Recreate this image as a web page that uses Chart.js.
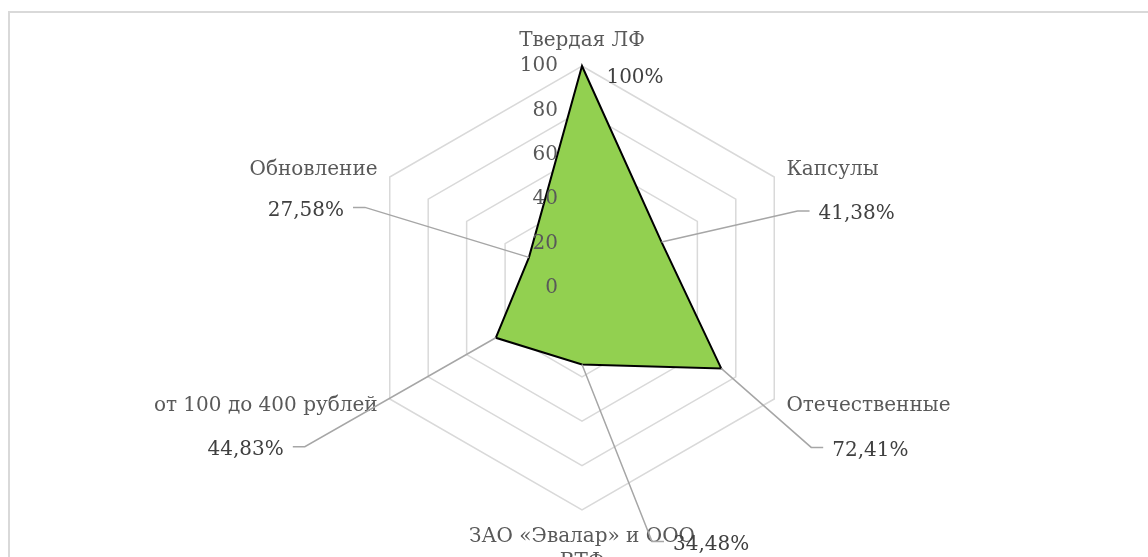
<!DOCTYPE html>
<html>
<head>
<meta charset="utf-8">
<script src="https://cdn.jsdelivr.net/npm/chart.js@4.4.1/dist/chart.umd.min.js"></script>
<style>
  html, body { margin: 0; padding: 0; background: #fff; overflow: hidden; }
  #wrap { position: absolute; left: 0; top: 0; width: 1148px; height: 557px; }
  #frame { position: absolute; left: 8px; top: 11px; width: 1160px; height: 600px; border: 2px solid #d9d9d9; box-sizing: border-box; }
</style>
</head>
<body>
<div id="frame"></div>
<div id="wrap"><canvas id="chart"></canvas></div>
<script>
const categories = ["Твердая ЛФ", "Капсулы", "Отечественные", ["ЗАО «Эвалар» и ООО", "ВТФ"], "от 100 до 400 рублей", "Обновление"];
const shares = [100, 41.38, 72.41, 34.48, 44.83, 27.58];
const tickValues = [0, 20, 40, 60, 80, 100];

// where each value label sits relative to its point, and whether it gets a leader line
const labelOffsets = [[53, 12, false], [136, -31, true], [90, 79, true], [70, 177, true], [-191, 109, true], [-164, -50, true]];

const FONT = "'DejaVu Serif', 'Liberation Serif', serif";

function pct(v) {
  let s = Number.isInteger(v) ? String(v) : v.toFixed(2).replace(".", ",");
  return s + "%";
}

const labelsPlugin = {
  id: "labels",
  afterDatasetsDraw(chart) {
    const ctx = chart.ctx;
    const scale = chart.scales.r;
    const r = scale.drawingArea;

    ctx.save();
    ctx.font = "20px " + FONT;
    ctx.fillStyle = "#595959";
    ctx.textBaseline = "middle";

    // ticks on the vertical axis
    ctx.textAlign = "right";
    tickValues.forEach((v) => {
      const d = scale.getDistanceFromCenterForValue(v);
      ctx.fillText(String(v), scale.xCenter - 24, scale.yCenter - d);
    });

    // category labels
    categories.forEach((label, i) => {
      const p = scale.getPointPosition(i, r + 14);
      const lines = Array.isArray(label) ? label : [label];
      let y = p.y;
      if (i === 0) {
        ctx.textAlign = "center";
        y = p.y - 11;
      } else if (i === 3) {
        ctx.textAlign = "center";
        y = p.y + 13;
      } else {
        ctx.textAlign = p.x > scale.xCenter ? "left" : "right";
      }
      lines.forEach((t, k) => ctx.fillText(t, p.x, y + k * 25));
    });

    // value labels with leader lines
    const meta = chart.getDatasetMeta(0);
    meta.data.forEach((pt, i) => {
      const [dx, dy, leader] = labelOffsets[i];
      const txt = pct(shares[i]);
      const ex = pt.x + dx;
      const ey = pt.y + dy;
      ctx.fillStyle = "#404040";
      if (!leader) {
        ctx.textAlign = "center";
        ctx.fillText(txt, ex, ey);
        return;
      }
      const dir = dx > 0 ? 1 : -1;
      ctx.strokeStyle = "#a6a6a6";
      ctx.lineWidth = 1.5;
      ctx.beginPath();
      ctx.moveTo(pt.x, pt.y);
      ctx.lineTo(ex, ey);
      ctx.lineTo(ex + dir * 12, ey);
      ctx.stroke();
      ctx.textAlign = dir > 0 ? "left" : "right";
      ctx.fillText(txt, ex + dir * 21, ey + 3);
    });
    ctx.restore();
  },
};

new Chart(document.querySelector("#chart"), {
  type: "radar",
  data: {
    labels: categories,
    datasets: [
      {
        data: shares,
        backgroundColor: "#92d050",
        borderColor: "#000000",
        borderWidth: 2,
        pointRadius: 0,
        pointHoverRadius: 0,
      },
    ],
  },
  options: {
    responsive: true,
    maintainAspectRatio: false,
    animation: false,
    layout: {
      padding: { left: 16, right: 0, top: 66, bottom: 47 },
    },
    plugins: {
      legend: { display: false },
      tooltip: { enabled: false },
    },
    scales: {
      r: {
        min: 0,
        max: 100,
        ticks: { display: false, stepSize: 20 },
        pointLabels: { display: false },
        angleLines: { display: false },
        grid: { color: "#d9d9d9", lineWidth: 1.5 },
      },
    },
  },
  plugins: [labelsPlugin],
});
</script>
</body>
</html>
